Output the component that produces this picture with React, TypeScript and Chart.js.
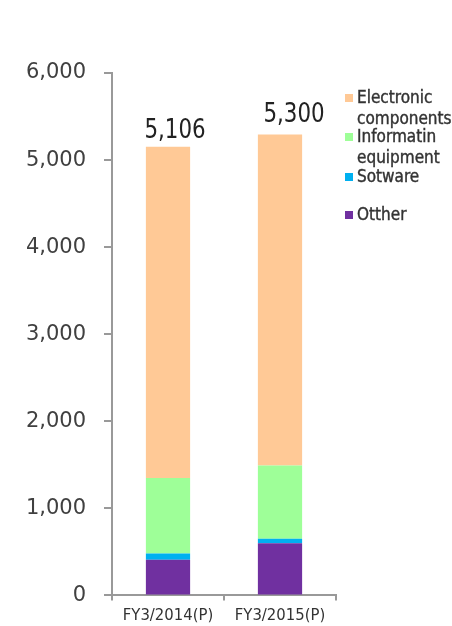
import React, { useEffect, useRef } from "react";
import { Chart, registerables } from "chart.js";

Chart.register(...registerables);

const categories = ["FY3/2014(P)", "FY3/2015(P)"];
const electronic = [3803, 3802];
const information = [867, 841];
const software = [72, 50];
const other = [410, 600];
const totals = [5106, 5300];
const legendNames = ["Electronic\ncomponents", "Informatin\nequipment", "Sotware", "Otther"];

const COLORS = {
  electronic: "#FFC996",
  information: "#9EFF98",
  software: "#00B0F0",
  other: "#7030A0",
};

// layout-only constants for the total labels (dx, dy from bar top)
const LABEL_SHIFT = [
  [7, -9],
  [14, -13],
];
const LEGEND_TOPS = [87, 126, 166, 204];

const NARROW = '"DejaVu Sans Condensed", sans-serif';

export default function App() {
  const ref = useRef<HTMLCanvasElement | null>(null);

  useEffect(() => {
    document.body.style.margin = "0";
    const canvas = ref.current;
    if (!canvas) return;

    const totalsPlugin = {
      id: "totals",
      afterDatasetsDraw(chart: any) {
        const ctx = chart.ctx;
        const meta = chart.getDatasetMeta(chart.data.datasets.length - 1);
        meta.data.forEach((bar: any, i: number) => {
          const [dx, dy] = LABEL_SHIFT[i];
          ctx.save();
          ctx.translate(bar.x + dx, bar.y + dy);
          ctx.scale(0.88, 1);
          ctx.font = `27px ${NARROW}`;
          ctx.fillStyle = "#222";
          ctx.textAlign = "center";
          ctx.textBaseline = "alphabetic";
          ctx.fillText(totals[i].toLocaleString("en-US"), 0, 0);
          ctx.restore();
        });
      },
    };

    const chart = new Chart(canvas, {
      type: "bar",
      data: {
        labels: categories,
        datasets: [
          { label: "Otther", data: other, backgroundColor: COLORS.other },
          { label: "Sotware", data: software, backgroundColor: COLORS.software },
          { label: "Informatin equipment", data: information, backgroundColor: COLORS.information },
          { label: "Electronic components", data: electronic, backgroundColor: COLORS.electronic },
        ],
      },
      options: {
        responsive: false,
        animation: false,
        layout: { padding: { top: 73, right: 116, left: 0, bottom: 0 } },
        datasets: { bar: { barPercentage: 0.395, categoryPercentage: 1 } },
        plugins: {
          legend: { display: false },
          tooltip: { enabled: false },
        },
        scales: {
          x: {
            stacked: true,
            grid: { drawOnChartArea: false, tickLength: 5, color: "#999", lineWidth: 2 },
            border: { color: "#999", width: 2 },
            ticks: { font: { family: NARROW, size: 16.5 }, color: "#333", padding: 5 },
            afterFit: (s: any) => {
              s.height = 27;
            },
          },
          y: {
            stacked: true,
            min: 0,
            max: 6000,
            grid: { drawOnChartArea: false, tickLength: 8, color: "#999", lineWidth: 2 },
            border: { color: "#999", width: 2 },
            ticks: {
              stepSize: 1000,
              font: { family: '"DejaVu Sans", sans-serif', size: 21 },
              color: "#404040",
              padding: 18,
              callback: (v: any) => Number(v).toLocaleString("en-US"),
            },
            afterFit: (s: any) => {
              s.width = 112;
            },
          },
        },
      },
      plugins: [totalsPlugin],
    });
    return () => chart.destroy();
  }, []);

  const legendColors = [COLORS.electronic, COLORS.information, COLORS.software, COLORS.other];

  return (
    <div style={{ position: "fixed", left: 0, top: 0, width: 452, height: 626, background: "#fff" }}>
      <canvas ref={ref} width={452} height={626} style={{ width: 452, height: 626, display: "block" }} />
      {legendNames.map((name, i) => (
        <div key={name} style={{ position: "absolute", left: 345, top: LEGEND_TOPS[i] }}>
          <div
            style={{
              position: "absolute",
              left: 0,
              top: 7,
              width: 8,
              height: 8,
              background: legendColors[i],
            }}
          />
          <div
            style={{
              marginLeft: 12,
              fontFamily: NARROW,
              fontSize: 17,
              lineHeight: "21px",
              color: "#333",
              whiteSpace: "pre",
              WebkitTextStroke: "0.4px #333",
            }}
          >
            {name}
          </div>
        </div>
      ))}
    </div>
  );
}
